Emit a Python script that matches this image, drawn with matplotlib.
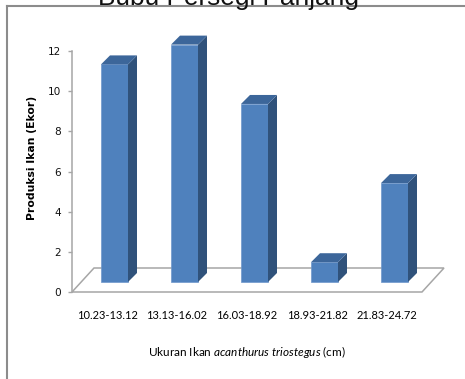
import numpy as np
import matplotlib.pyplot as plt
from matplotlib.patches import Polygon
from matplotlib.lines import Line2D

plt.rcParams['mathtext.fontset'] = 'custom'
plt.rcParams['mathtext.rm'] = 'Lato'
plt.rcParams['mathtext.it'] = 'Lato:italic'

kelas = ['10.23-13.12', '13.13-16.02', '16.03-18.92', '18.93-21.82', '21.83-24.72']
jumlah = [11, 12, 9, 1, 5]
yticks = [0, 2, 4, 6, 8, 10, 12]

front = '#4F81BD'
side = '#30527B'
top = '#3C669A'
grid_grey = '#A6A6A6'

W, H = 465, 379
fig = plt.figure(figsize=(W / 100, H / 100), dpi=100)
ax = fig.add_axes([72 / W, 1 - 292 / H, 350 / W, 241 / H])
ax.set_xlim(-0.5, 4.5)
ax.set_ylim(0, 12)

# pixel -> data unit sizes
ux = 70.0
uy = 241 / 12
fdx, fdy = 22 / ux, 24 / uy      # floor depth
bdx, bdy = 7.5 / ux, 10 / uy     # bar front offset into floor
sdx, sdy = 9 / ux, 9 / uy        # bar depth
bw = 27 / ux
k = 0.985

# floor
floor = Polygon([(-0.5, 0), (4.5, 0), (4.5 + fdx, fdy), (-0.5 + fdx, fdy)],
                closed=True, facecolor='none', edgecolor=grid_grey, lw=1.1,
                clip_on=False, zorder=1)
ax.add_patch(floor)

x = np.arange(len(kelas))
hs = np.array(jumlah) * k
ax.bar(x + bdx, hs, width=bw, bottom=bdy, color=front, edgecolor='#6E98CC',
       linewidth=0.5, zorder=3, clip_on=False)
for xi, h in zip(x, hs):
    x0 = xi + bdx - bw / 2
    x1 = xi + bdx + bw / 2
    yt = bdy + h
    ax.add_patch(Polygon([(x1, bdy), (x1 + sdx, bdy + sdy), (x1 + sdx, yt + sdy), (x1, yt)],
                         closed=True, facecolor=side, edgecolor='none', zorder=3, clip_on=False))
    ax.add_patch(Polygon([(x0, yt), (x1, yt), (x1 + sdx, yt + sdy), (x0 + sdx, yt + sdy)],
                         closed=True, facecolor=top, edgecolor='none', zorder=3, clip_on=False))

for s in ['top', 'right', 'bottom']:
    ax.spines[s].set_visible(False)
ax.spines['left'].set_color(grid_grey)
ax.spines['left'].set_linewidth(1.1)
ax.set_yticks(yticks)
ax.tick_params(axis='y', length=3, width=1, color=grid_grey, pad=5, labelsize=7.6,
               labelcolor='#111111')
ax.set_xticks(x)
ax.set_xticklabels(kelas, fontfamily='Lato', fontsize=8, color='black')
ax.tick_params(axis='x', length=0, pad=13.2)

fig.text(247 / W, 1 - 352 / H, r'Ukuran Ikan $\it{acanthurus\ triostegus}$ (cm)',
         ha='center', va='center', fontfamily='Lato', fontsize=8.5, color='black')
fig.text(32 / W, 1 - 158 / H, 'Produksi Ikan (Ekor)', rotation=90, ha='center',
         va='center', fontweight='bold', fontsize=7.8, color='black')

# outer frame and clipped title
fig.add_artist(Line2D([7 / W, 1], [1 - 6 / H, 1 - 6 / H], color='#8C8C8C', lw=1.5))
fig.add_artist(Line2D([7 / W, 7 / W], [0, 1 - 6 / H], color='#8C8C8C', lw=1.5))
fig.text(228 / W, 1 - 5 / H, 'Bubu Persegi Panjang', ha='center', va='baseline',
         fontfamily='Liberation Sans', fontsize=18.9, color='#111111')

fig.savefig('out.png', dpi=100)
